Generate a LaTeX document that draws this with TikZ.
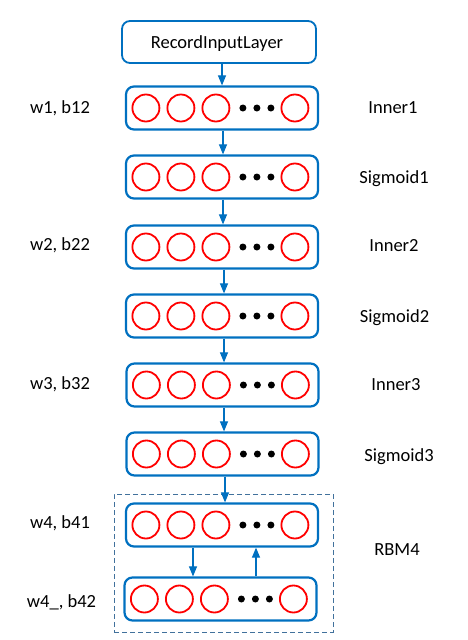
\documentclass[tikz,border=0pt]{standalone}
\usepackage{fontspec}
\setmainfont{Carlito}
\usetikzlibrary{arrows.meta}
\definecolor{boxblue}{RGB}{0,112,192}
\definecolor{dashblue}{RGB}{65,113,156}
\definecolor{neuronred}{RGB}{255,0,0}
\begin{document}
\begin{tikzpicture}[x=1pt,y=-1pt,
  layerbox/.style={draw=boxblue,line width=2.2pt,rounded corners=8pt,minimum width=192pt,minimum height=43pt,inner sep=0pt},
  inputbox/.style={draw=boxblue,line width=1.8pt,rounded corners=8pt,minimum width=194pt,minimum height=42pt,inner sep=0pt},
  neuron/.style={draw=neuronred,line width=1.8pt,circle,minimum size=27pt,inner sep=0pt},
  dotn/.style={fill=black,circle,minimum size=7pt,inner sep=0pt},
  arr/.style={draw=boxblue,line width=1.1pt,-{Triangle[length=10pt,width=8pt]}},
  lbl/.style={font=\fontsize{18.5}{22}\selectfont,anchor=base,inner sep=0pt},
  rbm/.style={draw=dashblue,line width=0.9pt,dash pattern=on 5pt off 3pt}
]
\useasboundingbox (0,0) rectangle (467,640);

% dashed RBM frame
\node[rbm,minimum width=219pt,minimum height=138pt,inner sep=0pt] (frame) at (223.5,563) {};

% input layer
\node[inputbox] (R) at (219,42) {};
\node[lbl] (Rt) at (217,48) {RecordInputLayer};

% layers
\foreach \n/\x/\y in {1/222/108,2/222/177,3/222/247,4/222/316,5/222.5/385,6/222.5/454,7/222/525,8/220.5/599}{
  \node[layerbox] (L\n) at (\x,\y) {};
  \node[neuron] (L\n a) at ([xshift=21pt]L\n.west) {};
  \node[neuron] (L\n b) at ([xshift=56pt]L\n.west) {};
  \node[neuron] (L\n c) at ([xshift=91pt]L\n.west) {};
  \node[dotn] (L\n d1) at ([xshift=118pt]L\n.west) {};
  \node[dotn] (L\n d2) at ([xshift=132pt]L\n.west) {};
  \node[dotn] (L\n d3) at ([xshift=146pt]L\n.west) {};
  \node[neuron] (L\n e) at ([xshift=170pt]L\n.west) {};
}

% connectors
\draw[arr] ([xshift=3pt]R.south) -- (L1.north);
\draw[arr] ([xshift=1pt]L1.south) -- ([xshift=1pt]L2.north);
\draw[arr] ([xshift=1pt]L2.south) -- ([xshift=1pt]L3.north);
\draw[arr] ([xshift=2pt]L3.south) -- ([xshift=2pt]L4.north);
\draw[arr] ([xshift=2pt]L4.south) -- ([xshift=1.5pt]L5.north);
\draw[arr] ([xshift=1.5pt]L5.south) -- ([xshift=1.5pt]L6.north);
\draw[arr] ([xshift=2.5pt]L6.south) -- ([xshift=3pt]L7.north);
\draw[arr] ([xshift=-29pt]L7.south) -- ([xshift=-27.5pt]L8.north);
\draw[arr] ([xshift=35.5pt]L8.north) -- ([xshift=34pt]L7.south);

% left labels
\node[lbl] (w1) at (60,113) {w1, b12};
\node[lbl] (w2) at (60,250) {w2, b22};
\node[lbl] (w3) at (60,389) {w3, b32};
\node[lbl] (w4) at (60,528) {w4, b41};
\node[lbl] (w4b) at (61.5,607) {w4\_, b42};

% right labels
\node[lbl] (n1) at (393,113) {Inner1};
\node[lbl] (s1) at (394,183) {Sigmoid1};
\node[lbl] (n2) at (394,251) {Inner2};
\node[lbl] (s2) at (394.5,322) {Sigmoid2};
\node[lbl] (n3) at (396,390) {Inner3};
\node[lbl] (s3) at (399,461) {Sigmoid3};
\node[lbl] (r4) at (397,555) {RBM4};
\end{tikzpicture}
\end{document}
